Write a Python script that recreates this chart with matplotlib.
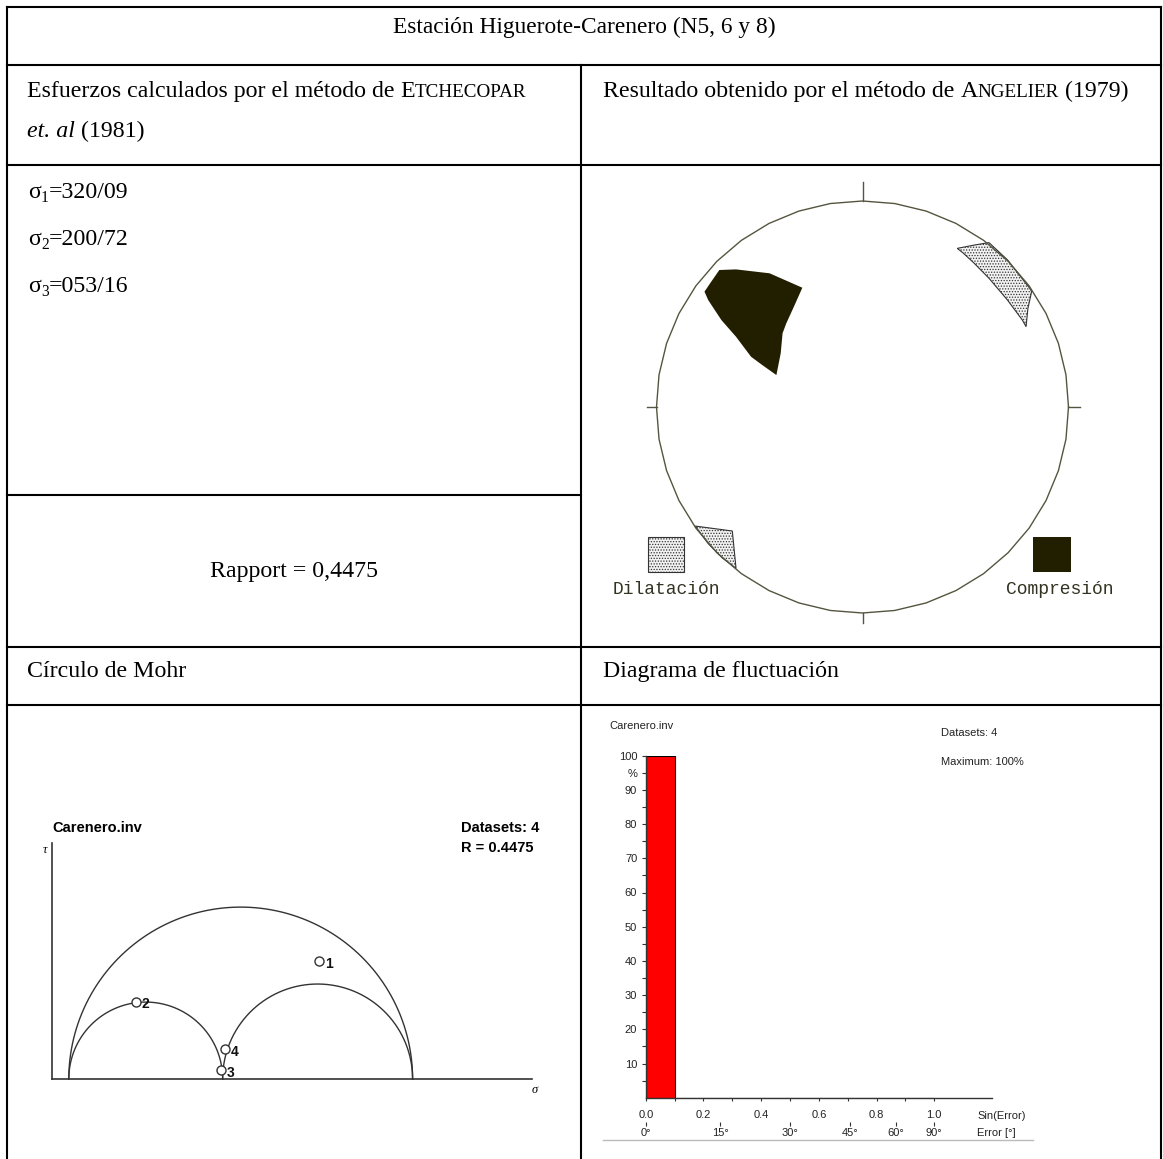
import numpy as np
import matplotlib
matplotlib.use("Agg")
import matplotlib.pyplot as plt

# ---- data ----
title = "Estación Higuerote-Carenero (N5, 6 y 8)"
sigma_names = ["1", "2", "3"]
sigma_values = ["320/09", "200/72", "053/16"]
rapport = "0,4475"

# stereonet polygons (unit circle coords, x east, y north)
comp_u = [-0.695, -0.614, -0.451, -0.292, -0.333, -0.370, -0.388, -0.397,
          -0.418, -0.487, -0.541, -0.614, -0.685, -0.749, -0.767, -0.740]
comp_v = [0.665, 0.668, 0.649, 0.579, 0.487, 0.406, 0.358, 0.261,
          0.155, 0.204, 0.244, 0.341, 0.422, 0.519, 0.560, 0.600]
dil_ne_u = [0.460, 0.542, 0.614, 0.704, 0.812, 0.821, 0.803, 0.794,
            0.776, 0.704, 0.614, 0.541, 0.488]
dil_ne_v = [0.770, 0.786, 0.798, 0.714, 0.576, 0.560, 0.479, 0.390,
            0.422, 0.519, 0.625, 0.699, 0.748]
dil_sw_u = [-0.812, -0.632, -0.614, -0.680, -0.750]
dil_sw_v = [-0.578, -0.602, -0.783, -0.733, -0.662]

# Mohr circle
s1, s2, s3 = 1.0, 0.4475, 0.0
pt_ids = ["1", "2", "3", "4"]
pt_sigma = [0.728, 0.195, 0.444, 0.454]
pt_tau = [0.344, 0.225, 0.026, 0.086]

# fluctuation histogram
bin_left = [0.0, 0.1, 0.2, 0.3, 0.4, 0.5, 0.6, 0.7, 0.8, 0.9]
bin_pct = [100, 0, 0, 0, 0, 0, 0, 0, 0, 0]
sin_ticks = [0.0, 0.2, 0.4, 0.6, 0.8, 1.0]
err_deg = [0, 15, 30, 45, 60, 90]

W, H, DPI = 1163, 1159, 100
SERIF = "Liberation Serif"
FS = 17.2

fig = plt.figure(figsize=(W / DPI, H / DPI), dpi=DPI)
bg = fig.add_axes([0, 0, 1, 1])
bg.set_xlim(0, W)
bg.set_ylim(H, 0)
bg.axis("off")


def px_axes(x0, y0, x1, y1):
    a = fig.add_axes([x0 / W, 1 - y1 / H, (x1 - x0) / W, (y1 - y0) / H])
    a.set_facecolor("none")
    return a


# table grid
L, M, R = 7, 580.7, 1161
kw = dict(color="black", lw=1.5, solid_capstyle="projecting")
for y in [6.7, 65, 165, 647, 705]:
    bg.plot([L, R], [y, y], **kw)
bg.plot([L, M], [495, 495], **kw)
bg.plot([L, L], [6.7, H], **kw)
bg.plot([R, R], [6.7, H], **kw)
bg.plot([M, M], [65, H], **kw)

renderer = fig.canvas.get_renderer()


def rich(x, y, pieces):
    # pieces: (text, size, style, dy, gap_em)
    cx = x
    for s, size, style, dy, gap in pieces:
        cx += gap * size * DPI / 72
        t = bg.text(cx, y + dy, s, fontsize=size, style=style, family=SERIF,
                    va="baseline", ha="left")
        cx = t.get_window_extent(renderer).x1


bg.text((L + R) / 2, 33, title, fontsize=FS - 0.4, family=SERIF, ha="center", va="baseline")
sc = FS * 0.8
rich(27, 97, [("Esfuerzos calculados por el método de", FS, "normal", 0, 0),
              ("E", FS, "normal", 0, 0.25), ("TCHECOPAR", sc, "normal", 0, 0)])
rich(27, 137, [("et. al", FS, "italic", 0, 0), ("(1981)", FS, "normal", 0, 0.25)])
rich(603, 97, [("Resultado obtenido por el método de", FS, "normal", 0, 0),
               ("A", FS, "normal", 0, 0.25), ("NGELIER", sc, "normal", 0, 0),
               ("(1979)", FS, "normal", 0, 0.25)])
for i, (n, v) in enumerate(zip(sigma_names, sigma_values)):
    rich(28, 198 + 47 * i, [("σ", FS, "normal", 0, 0), (n, FS * 0.65, "normal", 4, 0),
                            ("=" + v, FS, "normal", 0, 0)])
bg.text((L + M) / 2, 577, "Rapport = " + rapport, fontsize=FS, family=SERIF,
        ha="center", va="baseline")
bg.text(27, 677, "Círculo de Mohr", fontsize=FS, family=SERIF, va="baseline")
bg.text(603, 677, "Diagrama de fluctuación", fontsize=FS, family=SERIF, va="baseline")

# ---- stereonet ----
cx, cy, rad, half = 862.5, 407, 206, 230
st = px_axes(cx - half, cy - half, cx + half, cy + half)
lim = half / rad
st.set_xlim(-lim, lim)
st.set_ylim(-lim, lim)
st.axis("off")
lc = "#55553f"
ang = np.linspace(0, 2 * np.pi, 41)
st.plot(np.cos(ang), np.sin(ang), color=lc, lw=1.0)
st.plot([0, 0], [1, 1.09], color=lc, lw=1.0)
st.plot([0, 0], [-1, -1.05], color=lc, lw=1.0)
st.plot([-1, -1.045], [0, 0], color=lc, lw=1.0)
st.plot([1, 1.054], [0, 0], color=lc, lw=1.0)
plt.rcParams["hatch.linewidth"] = 0.6
dark = "#221f00"
st.fill(comp_u, comp_v, color=dark, lw=0)
st.fill(dil_ne_u, dil_ne_v, facecolor="#f2f2f2", edgecolor="#333333", hatch="......", lw=0.8)
st.fill(dil_sw_u, dil_sw_v, facecolor="#f2f2f2", edgecolor="#333333", hatch="......", lw=0.8)
st.add_patch(plt.Rectangle((-1.041, -0.801), 0.174, 0.170, facecolor="#f2f2f2",
                           edgecolor="#333333", hatch="......", lw=0.8))
st.add_patch(plt.Rectangle((0.828, -0.801), 0.184, 0.170, facecolor=dark, lw=0))
st.text(-0.954, -0.888, "Dilatación", family="Liberation Mono", fontsize=13,
        color="#333322", ha="center", va="center")
st.text(0.959, -0.888, "Compresión", family="Liberation Mono", fontsize=13,
        color="#333322", ha="center", va="center")

# ---- Mohr circles ----
sc_px, ox, oy = 343.8, 68.8, 1079
mo = px_axes(30, 800, 560, 1110)
mo.set_xlim((30 - ox) / sc_px, (560 - ox) / sc_px)
mo.set_ylim((oy - 1110) / sc_px, (oy - 800) / sc_px)
mo.axis("off")
mc = "#333333"
ax0 = -0.049
mo.plot([ax0, ax0], [0, 0.686], color=mc, lw=1.2)
mo.plot([ax0, 1.346], [0, 0], color=mc, lw=1.2)
th = np.linspace(0, np.pi, 200)
for a, b in [(s1, s3), (s2, s3), (s1, s2)]:
    c, r = (a + b) / 2, (a - b) / 2
    mo.plot(c + r * np.cos(th), r * np.sin(th), color=mc, lw=1.0)
mo.plot(pt_sigma, pt_tau, "o", ms=6.5, mfc="white", mec=mc, mew=1.0, ls="none")
for s, t, lab in zip(pt_sigma, pt_tau, pt_ids):
    mo.annotate(lab, (s, t), xytext=(4, -2), textcoords="offset points",
                fontsize=10, fontweight="bold", family="Liberation Sans",
                va="center", ha="left", color="#111111")
mo.text(ax0, 0.730, "Carenero.inv", fontsize=10.5, fontweight="bold",
        family="Liberation Sans", va="center", ha="left")
mo.text(1.141, 0.730, "Datasets: 4", fontsize=10.5, fontweight="bold",
        family="Liberation Sans", va="center", ha="left")
mo.text(1.141, 0.672, "R = 0.4475", fontsize=10.5, fontweight="bold",
        family="Liberation Sans", va="center", ha="left")
mo.text(-0.070, 0.666, "τ", fontsize=9, style="italic", family=SERIF, va="center", ha="center")
mo.text(1.356, -0.032, "σ", fontsize=9, style="italic", family=SERIF, va="center", ha="center")

# ---- fluctuation histogram ----
hc = "#333333"
hs = px_axes(645.8, 755.7, 991.9, 1097.7)
hs.set_xlim(0, 1.2)
hs.set_ylim(0, 100)
hs.bar(bin_left, bin_pct, width=0.1, align="edge", color="#ff0000",
       edgecolor="black", lw=0.8)
for sp in ["top", "right"]:
    hs.spines[sp].set_visible(False)
for sp in ["left", "bottom"]:
    hs.spines[sp].set_color(hc)
    hs.spines[sp].set_linewidth(1.0)
yt = list(range(5, 101, 5))
hs.set_yticks(yt)
hs.set_yticklabels([str(v) if v % 10 == 0 else ("%" if v == 95 else "") for v in yt])
xt = [round(0.1 * i, 1) for i in range(11)]
hs.set_xticks(xt)
hs.set_xticklabels([f"{v:.1f}" if v in sin_ticks else "" for v in xt])
hs.tick_params(axis="y", length=3.2, width=0.8, color=hc, pad=3, labelsize=8,
               labelcolor="#222222")
hs.tick_params(axis="x", length=2.5, width=0.8, color=hc, pad=6, labelsize=8,
               labelcolor="#222222")
for lab in hs.get_xticklabels() + hs.get_yticklabels():
    lab.set_family("Liberation Sans")
sec = hs.secondary_xaxis(-0.070)
sec.set_xticks(np.sin(np.radians(err_deg)))
sec.set_xticklabels([f"{d}°" for d in err_deg])
sec.spines["bottom"].set_visible(False)
sec.tick_params(length=3, width=0.8, color=hc, pad=1.5, labelsize=8, labelcolor="#222222")
for lab in sec.get_xticklabels():
    lab.set_family("Liberation Sans")

hfont = dict(fontsize=8, family="Liberation Sans", color="#222222", va="center")
bg.text(977, 1115.7, "Sin(Error)", **hfont)
bg.text(977, 1133, "Error [°]", **hfont)
bg.text(609.7, 726, "Carenero.inv", **hfont)
bg.text(940.6, 732.7, "Datasets: 4", **hfont)
bg.text(940.6, 761.7, "Maximum: 100%", **hfont)
bg.plot([603, 1033], [1140, 1140], color="#bbbbbb", lw=1.0)

fig.savefig("out.png", dpi=DPI)
